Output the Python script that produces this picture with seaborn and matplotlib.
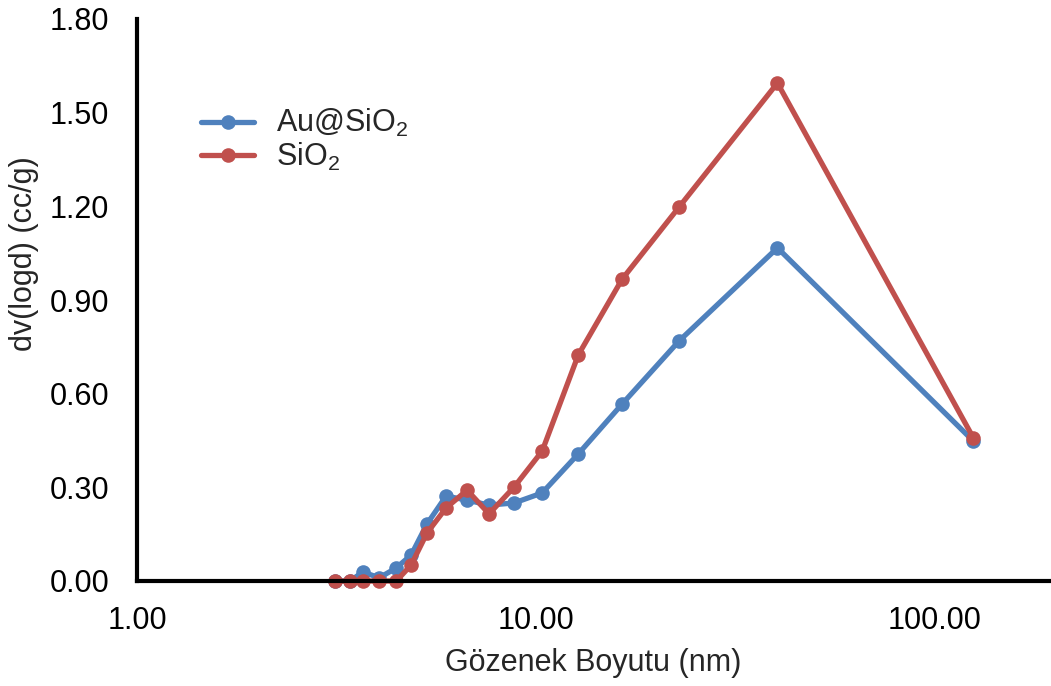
import matplotlib
matplotlib.use("Agg")
import matplotlib.pyplot as plt
import matplotlib.ticker as mticker
import numpy as np
import pandas as pd
import seaborn as sns

# Pore size distribution (BJH) for the two samples
pore_size_nm = [3.14, 3.42, 3.69, 4.05, 4.47, 4.87, 5.34, 5.96, 6.73, 7.64,
                8.83, 10.38, 12.79, 16.48, 22.9, 40.4, 125.3]
au_sio2 = [0.0, 0.0, 0.029, 0.010, 0.042, 0.083, 0.183, 0.272, 0.259, 0.243,
           0.250, 0.282, 0.407, 0.567, 0.769, 1.067, 0.448]
sio2 = [0.0, 0.0, 0.0, 0.0, 0.0, 0.051, 0.154, 0.234, 0.291, 0.215,
        0.301, 0.416, 0.724, 0.967, 1.198, 1.595, 0.458]

series_names = ["Au@SiO$_2$", "SiO$_2$"]
series_colors = ["#4F81BD", "#C0504D"]
y_ticks = [0.0, 0.3, 0.6, 0.9, 1.2, 1.5, 1.8]
x_ticks = [1, 10, 100]

df = pd.DataFrame({
    "size": pore_size_nm * 2,
    "dv": au_sio2 + sio2,
    "sample": [series_names[0]] * len(au_sio2) + [series_names[1]] * len(sio2),
})

sns.set_style("white")
plt.rcParams["font.family"] = ["Liberation Sans", "DejaVu Sans"]
plt.rcParams["mathtext.fontset"] = "custom"
plt.rcParams["mathtext.rm"] = "Liberation Sans"

fig = plt.figure(figsize=(10.51, 6.86), dpi=100)
ax = fig.add_axes([137 / 1051, 105 / 686, 913 / 1051, 562 / 686])

sns.lineplot(data=df, x="size", y="dv", hue="sample", hue_order=series_names,
             palette=series_colors, marker="o", markersize=10.5,
             markeredgewidth=0, linewidth=3.8, ax=ax, clip_on=False,
             estimator=None, sort=False)

ax.set_xscale("log")
ax.set_xlim(1, 195)
ax.set_ylim(0, 1.8)
ax.xaxis.set_major_locator(mticker.FixedLocator(x_ticks))
ax.xaxis.set_minor_locator(mticker.NullLocator())
ax.xaxis.set_major_formatter(mticker.FuncFormatter(lambda v, p: f"{v:.2f}"))
ax.set_yticks(y_ticks)
ax.yaxis.set_major_formatter(mticker.FuncFormatter(lambda v, p: f"{v:.2f}"))

for side in ["top", "right"]:
    ax.spines[side].set_visible(False)
for side in ["left", "bottom"]:
    ax.spines[side].set_linewidth(3.0)
    ax.spines[side].set_color("black")

ax.tick_params(axis="both", which="major", direction="in", length=7, width=3.0,
               labelsize=22, colors="black")
ax.tick_params(axis="x", pad=18)
ax.tick_params(axis="y", pad=20)

ax.set_xlabel("Gözenek Boyutu (nm)", fontsize=22)
ax.set_ylabel("dv(logd) (cc/g)", fontsize=22)
ax.xaxis.set_label_coords(0.5, -0.12)
ax.yaxis.set_label_coords(-0.107, 0.583)

leg = ax.legend(loc="upper left", bbox_to_anchor=(0.07, 0.843), frameon=False,
                fontsize=22, handlelength=1.75, handletextpad=0.7,
                labelspacing=0.05, borderaxespad=0, borderpad=0)

fig.savefig("out.png", dpi=100, facecolor="white")
